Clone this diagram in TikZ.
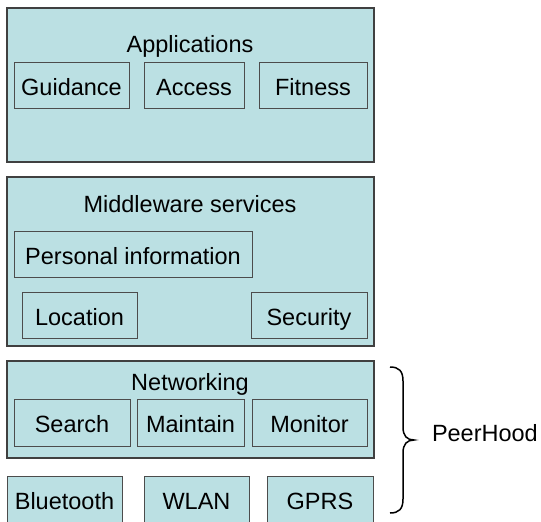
\documentclass[tikz,border=0pt]{standalone}
\usepackage{fontspec}
\setmainfont{Liberation Sans}
\begin{document}
\begin{tikzpicture}[x=1pt,y=-1pt,
  every node/.style={font=\fontsize{23.5}{28}\selectfont, inner sep=0pt, outer sep=0pt},
  layer/.style={draw=black!75, line width=1.1pt, fill=boxfill, rectangle},
  part/.style={draw=black!70, line width=0.9pt, fill=boxfill, rectangle,
    text height=20pt, text depth=0pt, minimum height=46pt},
  radio/.style={draw=black!70, line width=0.9pt, fill=boxfill, rectangle,
    text height=17pt, text depth=11pt, minimum height=60pt},
  title/.style={anchor=base}]
\definecolor{boxfill}{HTML}{BBE0E3}
\useasboundingbox (0,0) rectangle (541,522);
\clip (0,0) rectangle (541,522);

% Applications layer
\node[layer, minimum width=367pt, minimum height=154pt] (app) at (190.5,85) {};
\node[title] (apptitle) at (190,52) {Applications};
\node[part, minimum width=115pt] (guidance) at (71.5,85) {Guidance};
\node[part, minimum width=100pt] (access) at (194,85) {Access};
\node[part, minimum width=108pt] (fitness) at (313,85) {Fitness};

% Middleware layer
\node[layer, minimum width=367pt, minimum height=169pt] (mid) at (190.5,261.5) {};
\node[title] (midtitle) at (190,212.7) {Middleware services};
\node[part, minimum width=238pt] (personal) at (133,254) {Personal information};
\node[part, minimum width=115pt] (location) at (79.5,315) {Location};
\node[part, minimum width=116pt] (security) at (309,315) {Security};

% Networking layer
\node[layer, minimum width=367pt, minimum height=97pt] (net) at (190.5,409.5) {};
\node[title] (nettitle) at (190,390.7) {Networking};
\node[part, minimum width=116pt, minimum height=47pt] (search) at (72,422.5) {Search};
\node[part, minimum width=107pt, minimum height=47pt] (maintain) at (190.5,422.5) {Maintain};
\node[part, minimum width=115pt, minimum height=47pt] (monitor) at (309.5,422.5) {Monitor};

% Radio bearers
\node[radio, minimum width=115pt] (bluetooth) at (64.5,506) {Bluetooth};
\node[radio, minimum width=105pt] (wlan) at (196.5,506) {WLAN};
\node[radio, minimum width=106pt] (gprs) at (320,506) {GPRS};

% Brace grouping networking and radios
\coordinate (btop) at (390,367);
\coordinate (btip) at (414,440);
\coordinate (bbot) at (390,513);
\draw[line width=1.5pt, black]
  (btop) .. controls (399,367) and (403,371) .. (403,381)
  -- (403,427) .. controls (403,436) and (407,440) .. (btip)
  .. controls (407,440) and (403,444) .. (403,453)
  -- (403,499) .. controls (403,509) and (399,513) .. (bbot);
\node[anchor=base west] (peerhood) at (432,441) {PeerHood};
\end{tikzpicture}
\end{document}
